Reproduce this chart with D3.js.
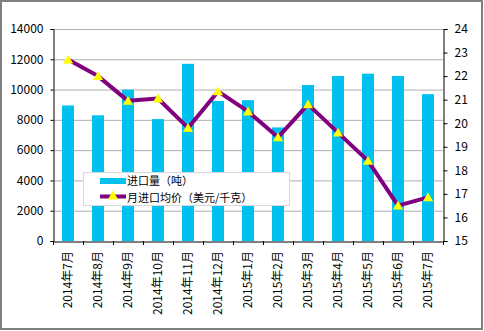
<!DOCTYPE html>
<html><head><meta charset="utf-8">
<script src="https://cdn.jsdelivr.net/npm/d3@7"></script>
<style>
html,body{margin:0;padding:0;background:#fff;}
svg{display:block;}
text{font-family:"Noto Sans CJK SC","DejaVu Sans",sans-serif;}
</style></head>
<body>
<svg id="c" width="484" height="331"></svg>
<script>
const categories = ["2014年7月","2014年8月","2014年9月","2014年10月","2014年11月","2014年12月","2015年1月","2015年2月","2015年3月","2015年4月","2015年5月","2015年6月","2015年7月"];
const volume = [8950, 8300, 10000, 8050, 11700, 9250, 9300, 7500, 10300, 10900, 11050, 10900, 9700];
const price = [22.7, 22.0, 20.95, 21.05, 19.8, 21.35, 20.5, 19.4, 20.8, 19.6, 18.4, 16.5, 16.85];
const leftTicks = [0, 2000, 4000, 6000, 8000, 10000, 12000, 14000];
const rightTicks = [15, 16, 17, 18, 19, 20, 21, 22, 23, 24];
const seriesNames = ["进口量（吨）", "月进口均价（美元/千克）"];

const svg = d3.select("#c");
const L = 53, R = 443, T = 29, B = 241;
const barColor = "#00c0f0", lineColor = "#800080", markColor = "#ffff00";

svg.append("rect").attr("x",1).attr("y",1).attr("width",481).attr("height",328)
  .attr("fill","#fff").attr("stroke","#808080").attr("stroke-width",2);

const x = d3.scaleBand().domain(categories).range([L, R]).paddingInner(0).paddingOuter(0);
const yL = d3.scaleLinear().domain([0, 14000]).range([B, T]);
const yR = d3.scaleLinear().domain([15, 24]).range([B, T]);

// gridlines
svg.append("g").selectAll("line").data(leftTicks.filter(d=>d>0)).join("line")
  .attr("x1", L).attr("x2", R).attr("y1", d=>yL(d)+0.5).attr("y2", d=>yL(d)+0.5)
  .attr("stroke","#b0b0b0").attr("stroke-width",1);

// bars
const bw = 12;
svg.append("g").selectAll("rect").data(volume).join("rect")
  .attr("x", (d,i)=> x(categories[i]) + x.bandwidth()/2 - bw/2)
  .attr("width", bw)
  .attr("y", d=>yL(d)).attr("height", d=>B - yL(d))
  .attr("fill", barColor);

// axes
const axL = d3.axisLeft(yL).tickValues(leftTicks).tickSize(3).tickPadding(7).tickFormat(d3.format("d"));
const gL = svg.append("g").attr("transform",`translate(${L+0.5},0)`).call(axL);
const axR = d3.axisRight(yR).tickValues(rightTicks).tickSize(4).tickPadding(7).tickFormat(d3.format("d"));
const gR = svg.append("g").attr("transform",`translate(${R+0.5},0)`).call(axR);
const axB = d3.axisBottom(x).tickSize(0).tickFormat("");
const gB = svg.append("g").attr("transform",`translate(0,${B+0.5})`).call(axB);
[gL,gR,gB].forEach(g=>{
  g.select(".domain").attr("stroke","#000");
  g.selectAll(".tick line").attr("stroke","#000");
  g.selectAll("text").attr("font-family","'Liberation Sans',Arial,sans-serif").attr("font-size",12).attr("fill","#000");
});
// category boundary ticks
const bounds = categories.map(c=>x(c)).concat([R]);
svg.append("g").selectAll("line").data(bounds).join("line")
  .attr("x1", d=>d+0.5).attr("x2", d=>d+0.5).attr("y1", B).attr("y2", B+4)
  .attr("stroke","#000");

// category labels (rotated)
svg.append("g").selectAll("text").data(categories).join("text")
  .attr("transform", d=>`translate(${x(d)+x.bandwidth()/2+4},251) rotate(-90)`)
  .attr("text-anchor","end")
  .attr("font-size",12).attr("fill","#000")
  .text(d=>d);

// line
const line = d3.line().x((d,i)=>x(categories[i])+x.bandwidth()/2).y(d=>yR(d));
svg.append("path").datum(price).attr("d", line).attr("fill","none")
  .attr("stroke", lineColor).attr("stroke-width",4).attr("stroke-linejoin","round");
const tri = d3.symbol().type(d3.symbolTriangle).size(45);
svg.append("g").selectAll("path").data(price).join("path")
  .attr("d", tri)
  .attr("transform",(d,i)=>`translate(${x(categories[i])+x.bandwidth()/2},${yR(d)+1})`)
  .attr("fill", markColor);

// legend
const lg = svg.append("g");
lg.append("rect").attr("x",83.5).attr("y",172.5).attr("width",206).attr("height",33)
  .attr("fill","#fff").attr("stroke","#d8d8d8");
lg.append("rect").attr("x",100).attr("y",178).attr("width",26).attr("height",6).attr("fill",barColor);
lg.append("text").attr("x",127).attr("y",185).attr("font-size",11).attr("fill","#000").text(seriesNames[0]);
lg.append("line").attr("x1",100).attr("x2",126).attr("y1",196.5).attr("y2",196.5)
  .attr("stroke",lineColor).attr("stroke-width",4);
lg.append("path").attr("d",tri).attr("transform","translate(113,196.5)").attr("fill",markColor);
lg.append("text").attr("x",127).attr("y",201.5).attr("font-size",11).attr("fill","#000").text(seriesNames[1]);
</script>
</body></html>
